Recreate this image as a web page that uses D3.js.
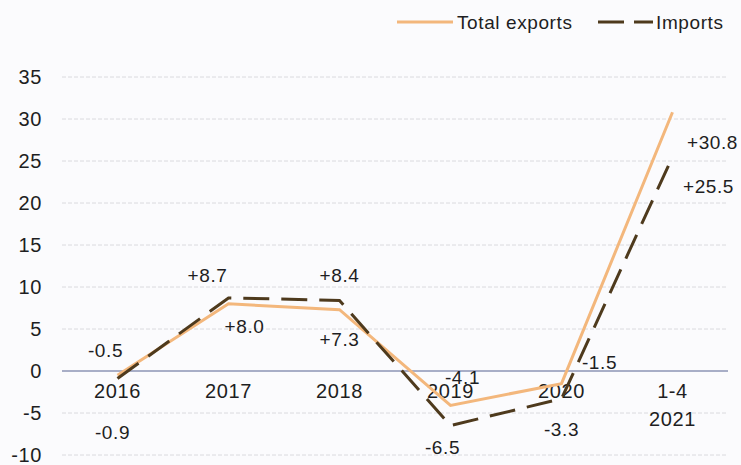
<!DOCTYPE html>
<html>
<head>
<meta charset="utf-8">
<script src="https://cdn.jsdelivr.net/npm/d3@7"></script>
<style>
  body { margin: 0; background: #fbfbfd; }
  svg { display: block; font-family: "Liberation Sans", Arial, sans-serif; }
  text { fill: #1e1e22; letter-spacing: 0.6px; }
</style>
</head>
<body>
<svg id="chart"></svg>
<script>
// data
const categories = ['2016', '2017', '2018', '2019', '2020', '1-4\n2021'];
const exportsData = [-0.5, 8.0, 7.3, -4.1, -1.5, 30.8];
const importsData = [-0.9, 8.7, 8.4, -6.5, -3.3, 25.5];
const exportsLabels = ['-0.5', '+8.0', '+7.3', '-4.1', '-1.5', '+30.8'];
const importsLabels = ['-0.9', '+8.7', '+8.4', '-6.5', '-3.3', '+25.5'];
const yTicks = [35, 30, 25, 20, 15, 10, 5, 0, -5, -10];

// label offsets from the point (layout only)
const exportsOffsets = [[-12, -25], [16, 23], [0, 30], [12, -28], [38, -21], [40, 30]];
const importsOffsets = [[-5, 54], [-21, -23], [0, -25], [-8, 22], [0, 31], [36, 30]];

const width = 741;
const height = 465;
const margin = { top: 77, right: 13, bottom: 10, left: 62 };

const svg = d3.select('#chart')
  .attr('width', width)
  .attr('height', height);

const x = d3.scalePoint()
  .domain(categories)
  .range([margin.left, width - margin.right])
  .padding(0.5);

const y = d3.scaleLinear()
  .domain([-10, 35])
  .range([455, 77]);

// gridlines
svg.append('g')
  .selectAll('line')
  .data(yTicks.filter(d => d !== 0))
  .join('line')
  .attr('x1', margin.left)
  .attr('x2', width - margin.right)
  .attr('y1', d => y(d))
  .attr('y2', d => y(d))
  .attr('stroke', '#dadade')
  .attr('stroke-width', 1)
  .attr('stroke-dasharray', '4,2');

// y axis labels
svg.append('g')
  .selectAll('text')
  .data(yTicks)
  .join('text')
  .attr('x', 42)
  .attr('y', d => y(d))
  .attr('dy', '0.35em')
  .attr('text-anchor', 'end')
  .attr('font-size', 20)
  .text(d => d);

// zero line
svg.append('line')
  .attr('x1', margin.left)
  .attr('x2', width - margin.right)
  .attr('y1', y(0))
  .attr('y2', y(0))
  .attr('stroke', '#8d95b5')
  .attr('stroke-width', 1.5);

// x category labels
const xl = svg.append('g')
  .selectAll('text')
  .data(categories)
  .join('text')
  .attr('x', d => x(d))
  .attr('y', y(0) + 27)
  .attr('text-anchor', 'middle')
  .attr('font-size', 20);
xl.selectAll('tspan')
  .data(d => d.split('\n').map(s => [d, s]))
  .join('tspan')
  .attr('x', d => x(d[0]))
  .attr('dy', (d, i) => i === 0 ? 0 : 28)
  .text(d => d[1]);

const line = d3.line()
  .x((d, i) => x(categories[i]))
  .y(d => y(d));

// exports line
svg.append('path')
  .datum(exportsData)
  .attr('fill', 'none')
  .attr('stroke', '#f3b77c')
  .attr('stroke-width', 3)
  .attr('d', line);

// imports line
svg.append('path')
  .datum(importsData)
  .attr('fill', 'none')
  .attr('stroke', '#4e3a1d')
  .attr('stroke-width', 3)
  .attr('stroke-dasharray', '26,12')
  .attr('d', line);

// value labels
function addLabels(values, labels, offsets) {
  svg.append('g')
    .selectAll('text')
    .data(values)
    .join('text')
    .attr('x', (d, i) => x(categories[i]) + offsets[i][0])
    .attr('y', (d, i) => y(d) + offsets[i][1])
    .attr('dy', '0.35em')
    .attr('text-anchor', 'middle')
    .attr('font-size', 19)
    .text((d, i) => labels[i]);
}
addLabels(exportsData, exportsLabels, exportsOffsets);
addLabels(importsData, importsLabels, importsOffsets);

// legend
const legend = svg.append('g');
legend.append('line')
  .attr('x1', 397).attr('x2', 453)
  .attr('y1', 22).attr('y2', 22)
  .attr('stroke', '#f3b77c')
  .attr('stroke-width', 3);
legend.append('text')
  .attr('x', 457).attr('y', 22).attr('dy', '0.35em')
  .attr('font-size', 19)
  .text('Total exports');
legend.append('line')
  .attr('x1', 598).attr('x2', 653)
  .attr('y1', 22).attr('y2', 22)
  .attr('stroke', '#4e3a1d')
  .attr('stroke-width', 3)
  .attr('stroke-dasharray', '26,10');
legend.append('text')
  .attr('x', 656).attr('y', 22).attr('dy', '0.35em')
  .attr('font-size', 19)
  .text('Imports');
</script>
</body>
</html>
